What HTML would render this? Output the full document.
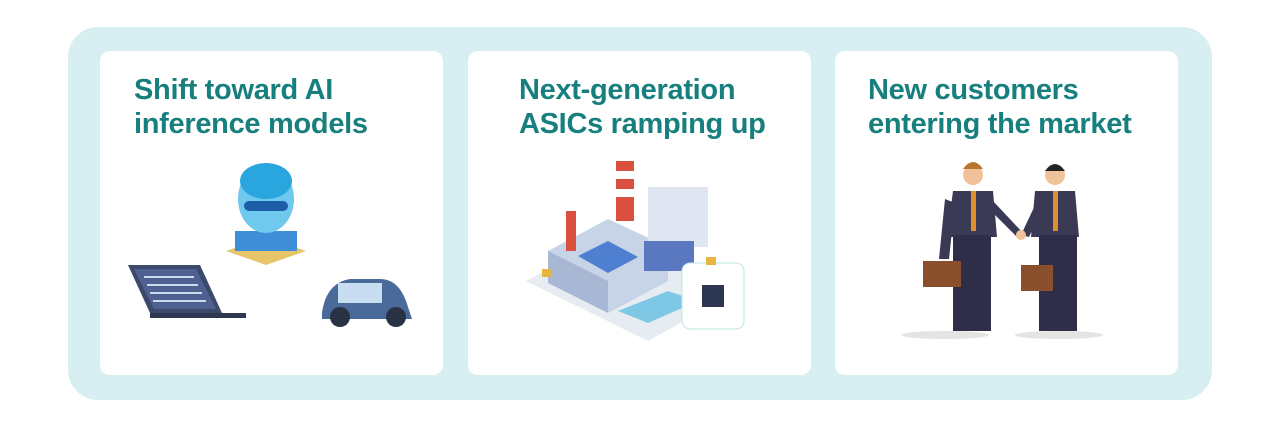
<!DOCTYPE html>
<html><head><style>
body{margin:0;width:1280px;height:427px;background:#fff;position:relative;overflow:hidden;font-family:"Liberation Sans",sans-serif}
.outer{position:absolute;left:68px;top:27px;width:1144px;height:373px;background:#d8eff1;border-radius:30px}
.card{position:absolute;top:51px;width:343px;height:324px;background:#fff;border-radius:10px}
.t{position:absolute;top:22px;font-weight:bold;font-size:29px;line-height:34px;color:#17807f;letter-spacing:-0.3px;white-space:nowrap}
svg{position:absolute;left:0;top:0}
</style></head><body>
<div class="outer"></div>
<div class="card" style="left:100px"><div class="t" style="left:34px">Shift toward AI<br>inference models</div>
<svg width="343" height="324">
<polygon points="28,214 100,214 122,262 50,262" fill="#3b4a6b"/><polygon points="34,218 96,218 116,258 54,258" fill="#4f6190"/>
<g stroke="#cfd9ee" stroke-width="2"><line x1="44" y1="226" x2="94" y2="226"/><line x1="47" y1="234" x2="98" y2="234"/><line x1="50" y1="242" x2="102" y2="242"/><line x1="53" y1="250" x2="106" y2="250"/></g>
<rect x="50" y="262" width="96" height="5" fill="#2d3850"/>
<polygon points="126,200 166,186 206,200 166,214" fill="#e8c56a"/><rect x="135" y="180" width="62" height="20" fill="#3e8fd8"/>
<ellipse cx="166" cy="148" rx="28" ry="34" fill="#6fc8ee"/><ellipse cx="166" cy="130" rx="26" ry="18" fill="#2aa6df"/><rect x="144" y="150" width="44" height="10" rx="5" fill="#1c5ea8"/>
<path d="M222 262 q4-30 28-34 h30 q20 0 28 28 l4 12 h-90z" fill="#4a6a9a"/><rect x="238" y="232" width="44" height="20" fill="#c8ddf0"/>
<circle cx="240" cy="266" r="10" fill="#2a3245"/><circle cx="296" cy="266" r="10" fill="#2a3245"/>
</svg></div>
<div class="card" style="left:468px"><div class="t" style="left:51px">Next-generation<br>ASICs ramping up</div>
<svg width="343" height="324">
<polygon points="58,230 150,180 270,240 180,290" fill="#e6ecf2"/>
<rect x="148" y="110" width="18" height="60" fill="#d9503f"/><rect x="148" y="120" width="18" height="8" fill="#fff"/><rect x="148" y="138" width="18" height="8" fill="#fff"/>
<polygon points="80,200 140,168 200,196 200,230 140,262 80,232" fill="#c7d3e6"/><polygon points="80,200 140,230 140,262 80,232" fill="#a8b8d4"/>
<polygon points="110,205 140,190 170,206 140,222" fill="#4f7fd0"/>
<rect x="98" y="160" width="10" height="40" fill="#d9503f"/><rect x="180" y="136" width="60" height="60" fill="#dfe6f1"/><rect x="176" y="190" width="50" height="30" fill="#5a78c0"/>
<polygon points="150,260 200,240 230,250 180,272" fill="#7ec8e6"/>
<rect x="214" y="212" width="62" height="66" rx="8" fill="#fff" stroke="#bfe6e6"/><rect x="234" y="234" width="22" height="22" fill="#2c3650"/>
<rect x="74" y="218" width="10" height="8" fill="#e8b640"/><rect x="238" y="206" width="10" height="8" fill="#e8b640"/>
</svg></div>
<div class="card" style="left:835px"><div class="t" style="left:33px">New customers<br>entering the market</div>
<svg width="343" height="324">
<ellipse cx="110" cy="284" rx="44" ry="4" fill="#e4e4e4"/><ellipse cx="224" cy="284" rx="44" ry="4" fill="#e4e4e4"/>
<circle cx="138" cy="124" r="10" fill="#f1c29a"/><path d="M128 118 q10-14 20 0z" fill="#b7752e"/>
<path d="M118 140 h40 l4 46 h-50z" fill="#3b3a55"/><path d="M110 148 l-6 60 h10 l6-56z" fill="#3b3a55"/><rect x="118" y="184" width="38" height="96" fill="#2f2e48"/><rect x="136" y="140" width="5" height="40" fill="#e0902a"/>
<path d="M158 150 l30 32 l-6 4 l-28-28z" fill="#3b3a55"/>
<rect x="88" y="210" width="38" height="26" fill="#8a4f2c"/>
<circle cx="220" cy="124" r="10" fill="#f1c29a"/><path d="M210 120 q10-14 20 0z" fill="#222"/>
<path d="M200 140 h40 l4 46 h-48z" fill="#3b3a55"/><rect x="204" y="184" width="38" height="96" fill="#2f2e48"/><rect x="218" y="140" width="5" height="40" fill="#e0902a"/>
<path d="M202 150 l-16 34 l8 2 l14-30z" fill="#3b3a55"/><circle cx="186" cy="184" r="5" fill="#f1c29a"/>
<rect x="186" y="214" width="32" height="26" fill="#8a4f2c"/>
</svg></div>
</body></html>
